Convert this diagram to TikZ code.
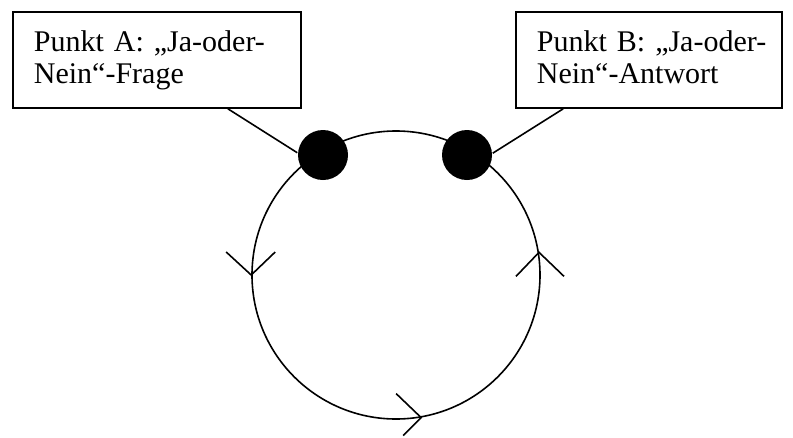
\documentclass[tikz,border=0pt]{standalone}
\usepackage{fontspec}
\setmainfont{Liberation Serif}
\usetikzlibrary{calc}
\begin{document}
\begin{tikzpicture}[x=1pt,y=-1pt,
  every path/.style={line width=1.6pt},
  box/.style={draw, line width=1.8pt, anchor=north west, align=left, inner xsep=21pt, inner ysep=0pt,
    minimum height=96pt, font=\fontsize{30}{32}\selectfont},
  dot/.style={circle, fill=black, draw=none, minimum size=50pt, inner sep=0pt},
  ring/.style={circle, draw, line width=1.6pt, minimum size=288pt, inner sep=0pt},
  link/.style={draw, line width=1.6pt}]
\useasboundingbox (0,0) rectangle (793,437);
\node[box, text width=246pt] (A) at (12,11) {\mbox{Punkt A: „Ja-oder-}\\\mbox{Nein“-Frage}};
\node[box, text width=224pt] (B) at (515,11) {\mbox{Punkt B: „Ja-oder-}\\\mbox{Nein“-Antwort\vphantom{g}}};
\node[ring] (C) at (396,275) {};
\node[dot] (dA) at (323,155) {};
\node[dot] (dB) at (467,155) {};
\path[link] ($(A.south west)!0.745!(A.south east)$) -- (dA.175);
\path[link] ($(B.south west)!0.18!(B.south east)$) -- (dB.4);
% direction marks
\draw (C.180) ++(-25,-23) -- (C.180) -- ++(24,-23);
\draw (C.9) ++(-23,24) -- (C.9) -- ++(25,24);
\draw (C.-80) ++(-25,-24) -- (C.-80) -- ++(-18,18);
\end{tikzpicture}
\end{document}
